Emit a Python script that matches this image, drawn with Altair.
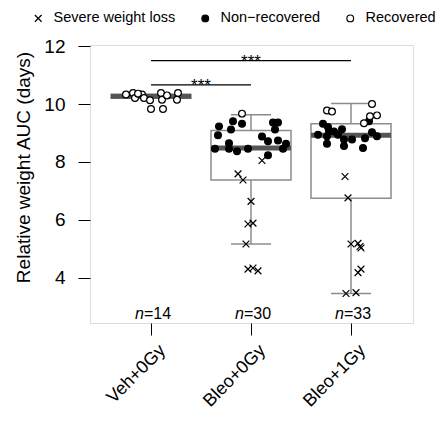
import json
import altair as alt
import pandas as pd

# ---------------- data ----------------
groups = ["Veh+0Gy", "Bleo+0Gy", "Bleo+1Gy"]
group_n = [14, 30, 33]
statuses = ["Severe weight loss", "Non\u2212recovered", "Recovered"]

# box statistics (q1, median, q3, lower whisker, upper whisker)
box_q1 = [10.20, 7.38, 6.75]
box_med = [10.27, 8.48, 8.92]
box_q3 = [10.33, 9.09, 9.32]
box_lo = [10.20, 5.17, 3.46]
box_hi = [10.33, 9.63, 10.02]

# Veh+0Gy points (all recovered)
veh_vals = [10.33, 10.38, 10.21, 10.33, 10.21, 10.13, 9.83, 10.38, 10.15, 9.83, 10.30, 10.38, 10.15, 10.36]
veh_jit = [-0.25, -0.18, -0.16, -0.09, -0.07, -0.01, 0.00, 0.10, 0.11, 0.12, 0.16, 0.27, 0.26, -0.13]

# Bleo+0Gy
b0_rec_vals = [9.67]
b0_rec_jit = [-0.09]
b0_non_vals = [9.23, 9.41, 9.32, 9.12, 8.92, 8.46, 8.65, 8.46, 8.37, 8.46,
               9.36, 9.36, 9.12, 8.88, 8.72, 8.74, 8.63, 8.46, 8.23]
b0_non_jit = [-0.32, -0.18, -0.09, -0.20, -0.33, -0.36, -0.22, -0.22, -0.14, -0.03,
              0.22, 0.27, 0.24, 0.11, 0.17, 0.27, 0.35, 0.32, 0.17]
b0_sev_vals = [8.05, 7.59, 7.38, 6.64, 5.86, 5.89, 5.17, 4.30, 4.34, 4.24]
b0_sev_jit = [0.11, -0.13, -0.08, 0.00, -0.03, 0.02, -0.05, -0.03, 0.02, 0.07]

# Bleo+1Gy
b1_rec_vals = [10.00, 9.78, 9.74, 9.58, 9.61, 9.34]
b1_rec_jit = [0.21, -0.24, -0.19, 0.19, 0.26, 0.13]
b1_non_vals = [9.32, 9.21, 9.06, 8.94, 8.89, 9.13, 8.94, 8.78, 8.78, 8.55,
               8.63, 8.48, 8.82, 9.03, 8.89, 9.41, 9.05]
b1_non_jit = [-0.28, -0.23, -0.22, -0.33, -0.24, -0.09, -0.13, -0.07, 0.01, -0.07,
              -0.24, 0.12, 0.14, 0.21, 0.26, 0.18, -0.17]
b1_sev_vals = [7.50, 6.76, 5.17, 5.19, 5.03, 5.08, 4.30, 4.18, 3.46, 3.49]
b1_sev_jit = [-0.06, -0.03, 0.00, 0.07, 0.10, 0.09, 0.10, 0.07, -0.05, 0.05]

# significance brackets
sig_from = [0, 0]
sig_to = [2, 1]
sig_y = [11.50, 10.66]
sig_text = ["***", "***"]

y_ticks = [4, 6, 8, 10, 12]

# ---------------- tables ----------------
rows = []
def add(gi, vals, jits, status):
    for v, j in zip(vals, jits):
        rows.append({"x": gi + j, "value": v, "status": status})

add(0, veh_vals, veh_jit, statuses[2])
add(1, b0_sev_vals, b0_sev_jit, statuses[0])
add(1, b0_non_vals, b0_non_jit, statuses[1])
add(1, b0_rec_vals, b0_rec_jit, statuses[2])
add(2, b1_sev_vals, b1_sev_jit, statuses[0])
add(2, b1_non_vals, b1_non_jit, statuses[1])
add(2, b1_rec_vals, b1_rec_jit, statuses[2])
pts = pd.DataFrame(rows)

boxes = pd.DataFrame({
    "idx": list(range(len(groups))), "q1": box_q1, "med": box_med, "q3": box_q3,
    "lo": box_lo, "hi": box_hi, "n": ["=%d" % n for n in group_n],
})
boxes["l"] = boxes["idx"] - 0.4
boxes["r"] = boxes["idx"] + 0.4
boxes["cl"] = boxes["idx"] - 0.2
boxes["cr"] = boxes["idx"] + 0.2

sig = pd.DataFrame({"a": sig_from, "b": sig_to, "y": sig_y, "t": sig_text})

# ---------------- encodings ----------------
FONT = "Liberation Sans"
GRAY = "#8c8c8c"
xscale = alt.Scale(domain=[-0.61, 2.62], nice=False, zero=False)
yscale = alt.Scale(domain=[2.44, 12.04], nice=False, zero=False)
label_expr = json.dumps(groups) + "[datum.value]"
xaxis = alt.Axis(values=[0, 1, 2], labelExpr=label_expr, title=None, grid=False,
                 domain=False, tickSize=12, tickColor="black", labelAngle=-45,
                 labelAlign="right", labelBaseline="top", labelFontSize=18,
                 labelPadding=6, labelOffset=5, labelColor="black", labelFont=FONT)
yaxis = alt.Axis(values=y_ticks, title="Relative weight AUC (days)", grid=False,
                 domain=False, tickSize=12, tickColor="black", labelFontSize=19,
                 labelColor="black", labelFont=FONT, labelPadding=13,
                 titleFontSize=19, titleFontWeight="normal", titleFont=FONT,
                 titleColor="black", titleX=-61, titleY=122, titleAlign="center",
                 titleBaseline="alphabetic", titleAngle=270)

def X(f):
    return alt.X(f, type="quantitative", scale=xscale, axis=xaxis)

def Y(f):
    return alt.Y(f, type="quantitative", scale=yscale, axis=yaxis)

base_b = alt.Chart(boxes)

stem_lo = base_b.mark_rule(color=GRAY, strokeWidth=1.5).encode(x=X("idx"), y=Y("lo"), y2="q1")
stem_hi = base_b.mark_rule(color=GRAY, strokeWidth=1.5).encode(x=X("idx"), y=Y("q3"), y2="hi")
cap_lo = base_b.mark_rule(color=GRAY, strokeWidth=1.5).encode(x=X("cl"), x2="cr", y=Y("lo"))
cap_hi = base_b.mark_rule(color=GRAY, strokeWidth=1.5).encode(x=X("cl"), x2="cr", y=Y("hi"))
box = base_b.mark_rect(fillOpacity=0, stroke=GRAY, strokeWidth=1.5).encode(
    x=X("l"), x2="r", y=Y("q1"), y2="q3")
med = base_b.mark_rule(color="#555555", strokeWidth=5).encode(x=X("l"), x2="r", y=Y("med"))

legend = alt.Legend(title=None, orient="none", direction="horizontal", legendX=-59,
                    legendY=-34, labelFontSize=14.5, labelFont=FONT, labelColor="black",
                    symbolStrokeWidth=1.2, symbolSize=45,
                    columnPadding=22, labelOffset=8)
xpath = "M-1,-1L1,1M1,-1L-1,1"
points = alt.Chart(pts).mark_point(size=46, strokeWidth=1.2, opacity=1).encode(
    x=X("x"), y=Y("value"),
    shape=alt.Shape("status:N", scale=alt.Scale(domain=statuses, range=[xpath, "circle", "circle"]),
                    legend=legend),
    fill=alt.Fill("status:N", scale=alt.Scale(domain=statuses, range=["transparent", "black", "white"]),
                  legend=legend),
    stroke=alt.Stroke("status:N", scale=alt.Scale(domain=statuses, range=["black", "black", "black"]),
                      legend=legend),
)

n_it = base_b.mark_text(fontSize=16, font=FONT, fontStyle="italic", align="right",
                        baseline="alphabetic", dx=-7, color="black").encode(
    x=X("idx"), y=alt.YDatum(2.58, scale=yscale, axis=yaxis), text=alt.value("n"))
n_num = base_b.mark_text(fontSize=16, font=FONT, align="left", baseline="alphabetic",
                         dx=-7, color="black").encode(
    x=X("idx"), y=alt.YDatum(2.58, scale=yscale, axis=yaxis), text="n:N")

base_s = alt.Chart(sig)
sig_line = base_s.mark_rule(color="black", strokeWidth=1.3).encode(x=X("a"), x2="b", y=Y("y"))
sig_lab = base_s.transform_calculate(m="(datum.a + datum.b) / 2").mark_text(
    fontSize=17, font=FONT, baseline="alphabetic", dy=6, color="black").encode(
    x=X("m"), y=Y("y"), text="t:N")

chart = alt.layer(stem_lo, stem_hi, cap_lo, cap_hi, box, med, sig_line, sig_lab,
                  points, n_it, n_num).properties(
    width=323, height=278,
    autosize=alt.AutoSizeParams(type="none"),
    padding={"left": 82, "top": 37, "right": 24, "bottom": 92},
).configure_view(stroke="black", strokeWidth=1.2).configure(background="white")

chart.save("out.html", embed_options={"renderer": "svg", "actions": False})
